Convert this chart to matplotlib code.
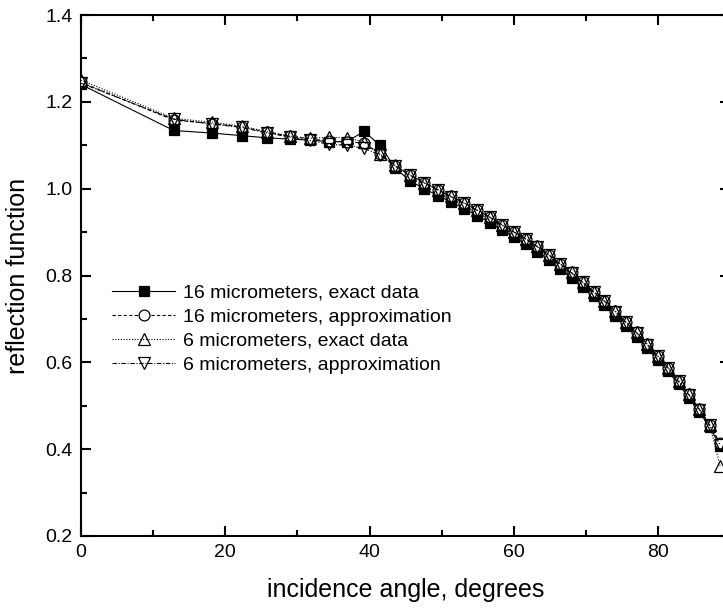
import matplotlib
matplotlib.use("Agg")
import matplotlib.pyplot as plt

plt.rcParams['font.family'] = ['Liberation Sans', 'DejaVu Sans']

angles = [0, 12.84, 18.19, 22.33, 25.84, 28.96, 31.79, 34.41, 36.87, 39.19,
          41.41, 43.53, 45.57, 47.55, 49.46, 51.32, 53.13, 54.90, 56.63, 58.33,
          60.00, 61.64, 63.26, 64.85, 66.42, 67.98, 69.51, 71.03, 72.54, 74.04,
          75.52, 77.00, 78.46, 79.92, 81.37, 82.82, 84.26, 85.70, 87.13, 88.57]

exact16 = [1.240, 1.134, 1.128, 1.122, 1.117, 1.114, 1.112, 1.108, 1.108, 1.132,
           1.101, 1.048, 1.018, 1.000, 0.984, 0.969, 0.954, 0.938, 0.922, 0.905,
           0.889, 0.872, 0.855, 0.836, 0.815, 0.795, 0.773, 0.752, 0.731, 0.707,
           0.683, 0.659, 0.632, 0.606, 0.579, 0.549, 0.519, 0.486, 0.450, 0.408]

approx16 = [1.245, 1.158, 1.150, 1.142, 1.130, 1.121, 1.114, 1.110, 1.108, 1.105,
            1.080, 1.053, 1.032, 1.014, 0.998, 0.982, 0.967, 0.951, 0.935, 0.917,
            0.901, 0.885, 0.867, 0.848, 0.827, 0.807, 0.785, 0.763, 0.742, 0.718,
            0.693, 0.669, 0.642, 0.615, 0.588, 0.557, 0.526, 0.492, 0.456, 0.414]

exact6 = [1.250, 1.162, 1.153, 1.144, 1.131, 1.121, 1.116, 1.118, 1.117, 1.108,
          1.080, 1.054, 1.032, 1.014, 0.998, 0.982, 0.967, 0.951, 0.935, 0.917,
          0.901, 0.885, 0.867, 0.848, 0.827, 0.807, 0.785, 0.763, 0.742, 0.718,
          0.693, 0.669, 0.642, 0.615, 0.588, 0.557, 0.526, 0.492, 0.456, 0.362]

approx6 = [1.243, 1.160, 1.149, 1.141, 1.128, 1.119, 1.111, 1.102, 1.100, 1.093,
           1.078, 1.052, 1.031, 1.013, 0.997, 0.981, 0.966, 0.950, 0.934, 0.916,
           0.900, 0.884, 0.866, 0.847, 0.826, 0.806, 0.784, 0.762, 0.741, 0.717,
           0.692, 0.668, 0.641, 0.614, 0.587, 0.556, 0.525, 0.491, 0.455, 0.410]

labels = ["16 micrometers, exact data", "16 micrometers, approximation",
          "6 micrometers, exact data", "6 micrometers, approximation"]

W, H = 723, 611
fig = plt.figure(figsize=(W / 100, H / 100), dpi=100)
ax = fig.add_axes([81 / W, 75 / H, 649.4 / W, 521 / H])

lw = 0.8
ms = 7.5
mew = 0.9
ax.plot(angles, exact16, color='black', lw=lw, ls='-', marker='s', ms=ms,
        mfc='black', mec='black', mew=mew, label=labels[0], zorder=3)
ax.plot(angles, approx16, color='black', lw=lw, ls=(0, (3, 2)), marker='o', ms=ms + 0.3,
        mfc='white', mec='black', mew=mew, label=labels[1], zorder=4)
ax.plot(angles, exact6, color='black', lw=lw, ls=(0, (1, 1.5)), marker='^', ms=ms + 0.7,
        mfc='none', mec='black', mew=mew, label=labels[2], zorder=5)
ax.plot(angles, approx6, color='black', lw=lw, ls=(0, (4, 1.5, 1, 1.5)), marker='v', ms=ms + 0.7,
        mfc='none', mec='black', mew=mew, label=labels[3], zorder=6)

ax.set_xlim(0, 90)
ax.set_ylim(0.2, 1.4)
ax.set_xticks([0, 20, 40, 60, 80])
ax.set_xticks([10, 30, 50, 70, 90], minor=True)
ax.set_yticks([0.2, 0.4, 0.6, 0.8, 1.0, 1.2, 1.4])
ax.set_yticks([0.3, 0.5, 0.7, 0.9, 1.1, 1.3], minor=True)
ax.set_yticklabels(["0.2", "0.4", "0.6", "0.8", "1.0", "1.2", "1.4"])

for s in ax.spines.values():
    s.set_linewidth(1.5)
ax.tick_params(which='both', direction='in', top=True, right=True, width=1.5,
               labelsize=14, colors='black')
ax.tick_params(which='major', length=7.5, pad=6)
ax.tick_params(which='minor', length=4)

ax.set_xlabel("incidence angle, degrees", fontsize=18, labelpad=12)
ax.set_ylabel("reflection function", fontsize=18, labelpad=11)

leg = fig.legend(loc='center left', bbox_to_anchor=(112 / W, 1 - 329 / H),
                 frameon=False, fontsize=14, handlelength=3.25, handletextpad=0.4,
                 labelspacing=0.33, borderpad=0, borderaxespad=0)

fig.savefig("out.png", dpi=100)
